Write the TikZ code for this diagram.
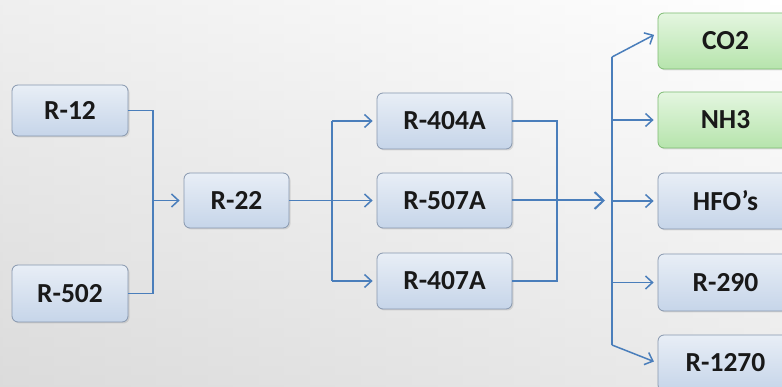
\documentclass[tikz,border=0pt]{standalone}
\usepackage{fontspec}
\setmainfont{Carlito}
\usetikzlibrary{arrows.meta,shadows,calc}
\definecolor{conncol}{HTML}{4A7EBB}
\definecolor{bluetop}{HTML}{E8EEF6}
\definecolor{bluebot}{HTML}{C6D5E9}
\definecolor{blueedge}{HTML}{8797AE}
\definecolor{greentop}{HTML}{E4F6E0}
\definecolor{greenbot}{HTML}{B6E4AC}
\definecolor{greenedge}{HTML}{7DBB72}
\begin{document}
\begin{tikzpicture}[x=1pt,y=-1pt,
  box/.style={rounded corners=6pt, draw=blueedge, line width=0.8pt,
    top color=bluetop, bottom color=bluebot, inner sep=0pt,
    font=\fontsize{27.5}{31}\selectfont\bfseries, text=black!90,
    drop shadow={opacity=0.22, shadow xshift=1.5pt, shadow yshift=-1.5pt}},
  gbox/.style={box, draw=greenedge, top color=greentop, bottom color=greenbot},
  conn/.style={draw=conncol, line width=1.5pt},
  arr/.style={conn, -{Straight Barb[length=7pt,width=13pt,line width=1.5pt]}, shorten >=4pt},
  bigarr/.style={draw=conncol, line width=2pt, -{Straight Barb[length=9pt,width=17pt,line width=2pt]}}
]
\clip (0,0) rectangle (782,387);
\shade[top color=white, bottom color=black!16] (0,0) rectangle (782,387);
\shade[left color=black!12, right color=white, opacity=0.5] (0,0) rectangle (782,387);

% nodes
\node[box, minimum width=116pt, minimum height=51pt] (r12) at (70,110.5) {R-12};
\node[box, minimum width=116pt, minimum height=57pt] (r502) at (70,293.5) {R-502};
\node[box, minimum width=105pt, minimum height=55pt] (r22) at (236.5,200.5) {R-22};
\node[box, minimum width=135pt, minimum height=56pt] (r404) at (444.5,121) {R-404A};
\node[box, minimum width=135pt, minimum height=55pt] (r507) at (444.5,200.5) {R-507A};
\node[box, minimum width=135pt, minimum height=56pt] (r407) at (444.5,281) {R-407A};
\node[gbox, minimum width=135pt, minimum height=56pt] (co2) at (725.5,41) {CO2};
\node[gbox, minimum width=135pt, minimum height=56pt] (nh3) at (725.5,120) {NH3};
\node[box, minimum width=135pt, minimum height=56pt] (hfo) at (725.5,201) {HFO’s};
\node[box, minimum width=135pt, minimum height=57pt] (r290) at (725.5,282.5) {R-290};
\node[box, minimum width=135pt, minimum height=56pt] (r1270) at (725.5,363) {R-1270};

% junctions
\coordinate (j1) at (153,200.5);
\coordinate (j2) at (332,200.5);
\coordinate (j3) at (557,200.5);
\coordinate (a3) at (605,200.5);
\coordinate (btop) at (612,57);
\coordinate (bbot) at (612,345);
\coordinate (co2in) at ($(co2.west)+(0,-8)$);
\coordinate (r1270in) at ($(r1270.west)+(0,0)$);

% connectors
\draw[conn] (r12.east) -| (j1);
\draw[conn] (r502.east) -| (j1);
\draw[arr] (j1) -- (r22.west);

\draw[conn] (r22.east) -- (j2);
\draw[conn] (j2 |- r404.west) -- (j2 |- r407.west);
\draw[arr] (j2 |- r404.west) -- (r404.west);
\draw[arr] (j2) -- (r507.west);
\draw[arr] (j2 |- r407.west) -- (r407.west);

\draw[conn] (r404.east) -| (j3);
\draw[conn] (r407.east) -| (j3);
\draw[bigarr] (r507.east) -- (a3);

\draw[conn] (btop) -- (bbot);
\draw[arr] (btop) -- (co2in);
\draw[arr] (btop |- nh3.west) -- (nh3.west);
\draw[arr] (btop |- hfo.west) -- (hfo.west);
\draw[arr] (btop |- r290.west) -- (r290.west);
\draw[arr] (bbot) -- (r1270in);
\end{tikzpicture}
\end{document}
